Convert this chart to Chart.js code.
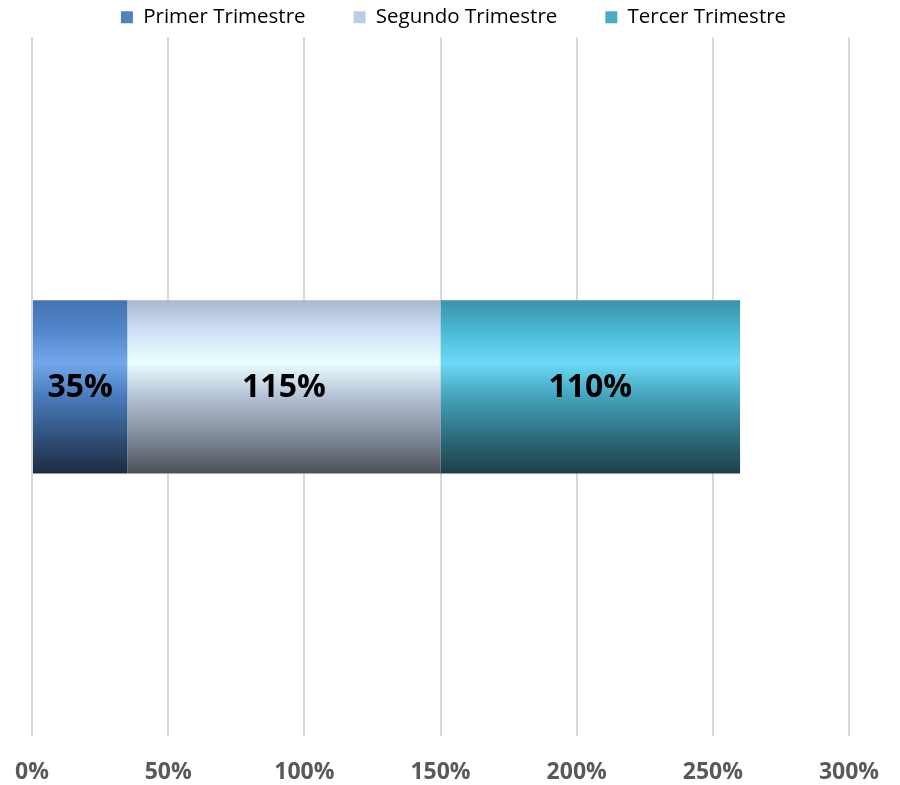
<!DOCTYPE html>
<html>
<head>
<meta charset="utf-8">
<script src="https://cdn.jsdelivr.net/npm/chart.js@4.4.0/dist/chart.umd.min.js"></script>
<style>
  html, body { margin: 0; padding: 0; background: #fff; overflow: hidden; }
  #wrap { position: absolute; left: 0; top: 0; width: 900px; height: 785px; }
</style>
</head>
<body>
<div id="wrap"><canvas id="trimChart"></canvas></div>
<script>
// Datos del gráfico
const categorias = [['Ventas y', 'Cobranzas']];
const primerTrimestre = [0.35];
const segundoTrimestre = [1.15];
const tercerTrimestre = [1.10];
const etiquetas = ['Primer Trimestre', 'Segundo Trimestre', 'Tercer Trimestre'];

// colores de la leyenda y degradados de cada barra
const coloresLeyenda = ['#4f81bd', '#b9cde5', '#4bacc6'];
const degradados = [
    ['#4673b0', '#5287cc', '#72a8ea', '#4a7cbd', '#2f4f78', '#1d2b40'],
    ['#a9b9cf', '#cfe0f7', '#eaffff', '#b6c3d6', '#7d8794', '#4a5058'],
    ['#3a93a8', '#4bbad6', '#6cdaf6', '#45a4bd', '#2c6a7a', '#1e3e48']
];
const paradas = [0, 0.18, 0.36, 0.55, 0.8, 1];
const catPct = 0.248;

function relleno(i) {
    return function (ctx) {
        const chart = ctx.chart;
        const y = chart.scales.y;
        if (!chart.chartArea || !y) return coloresLeyenda[i];
        const c = y.getPixelForValue(0);
        const h = y.height * catPct;
        const g = chart.ctx.createLinearGradient(0, c - h / 2, 0, c + h / 2);
        degradados[i].forEach((col, k) => g.addColorStop(paradas[k], col));
        return g;
    };
}

// etiquetas dentro de las barras
const etiquetasBarras = {
    id: 'etiquetasBarras',
    afterDatasetsDraw(chart) {
        const ctx = chart.ctx;
        ctx.save();
        ctx.font = 'bold 32px "Open Sans"';
        ctx.fillStyle = '#000';
        ctx.textAlign = 'center';
        ctx.textBaseline = 'middle';
        chart.data.datasets.forEach((ds, i) => {
            chart.getDatasetMeta(i).data.forEach((bar, j) => {
                const v = ds.data[j];
                const x = (bar.x + bar.base) / 2;
                ctx.fillText(Math.round(v * 100) + '%', x, bar.y + 1);
            });
        });
        ctx.restore();
    }
};

const grafico = new Chart(document.getElementById('trimChart').getContext('2d'), {
    type: 'bar',
    data: {
        labels: categorias,
        datasets: [
            { label: etiquetas[0], data: primerTrimestre, backgroundColor: relleno(0) },
            { label: etiquetas[1], data: segundoTrimestre, backgroundColor: relleno(1) },
            { label: etiquetas[2], data: tercerTrimestre, backgroundColor: relleno(2) }
        ]
    },
    options: {
        indexAxis: 'y',
        responsive: true,
        maintainAspectRatio: false,
        animation: false,
        barPercentage: 1,
        categoryPercentage: catPct,
        layout: { padding: { top: -41, right: 25, bottom: -23, left: 32 } },
        plugins: {
            tooltip: { enabled: false },
            legend: {
                position: 'top',
                labels: {
                    color: '#595959',
                    font: { family: '"Open Sans"', size: 20.5 },
                    boxWidth: 12,
                    boxHeight: 12,
                    padding: 48,
                    generateLabels(chart) {
                        return chart.data.datasets.map((ds, i) => ({
                            text: ds.label,
                            fillStyle: coloresLeyenda[i],
                            strokeStyle: coloresLeyenda[i],
                            lineWidth: 0,
                            datasetIndex: i
                        }));
                    }
                }
            }
        },
        scales: {
            x: {
                stacked: true,
                min: 0,
                max: 3,
                border: { display: false },
                grid: { color: '#d9d9d9', lineWidth: 2, drawTicks: false },
                afterFit(scale) { scale.paddingLeft = 0; scale.paddingRight = 51; },
                ticks: {
                    stepSize: 0.5,
                    padding: 22,
                    color: '#595959',
                    font: { family: '"Open Sans"', size: 23, weight: 'bold' },
                    callback: v => Math.round(v * 100) + '%'
                }
            },
            y: {
                stacked: true,
                border: { display: false },
                grid: { display: false },
                afterFit(scale) {
                    scale.width = 0;
                    scale.paddingTop = 0;
                    scale.paddingBottom = 0;
                },
                ticks: {
                    padding: 27,
                    color: '#595959',
                    font: { family: '"Open Sans"', size: 23, weight: 'bold' }
                }
            }
        }
    },
    plugins: [etiquetasBarras]
});
</script>
</body>
</html>
